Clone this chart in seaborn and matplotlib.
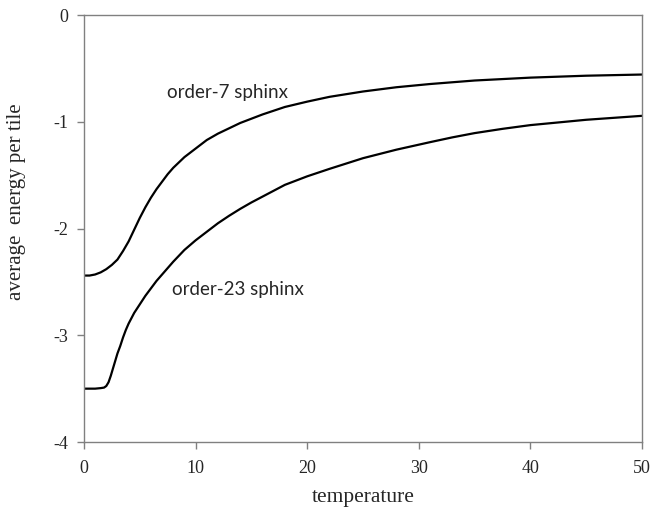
import pandas as pd
import matplotlib
matplotlib.use("Agg")
import matplotlib.pyplot as plt
import seaborn as sns

# ---------- data ----------
T7 = [0, 0.5, 1.0, 1.5, 2.0, 2.5, 3.0, 3.5, 4.0, 4.5, 5.0, 5.5, 6.0, 6.5,
      7.0, 7.5, 8.0, 9.0, 10, 11, 12, 13, 14, 15, 16, 18, 20, 22, 25, 28,
      31, 35, 40, 45, 50]
E7 = [-2.44, -2.44, -2.43, -2.41, -2.38, -2.34, -2.29, -2.21, -2.12, -2.01,
      -1.90, -1.80, -1.71, -1.63, -1.56, -1.49, -1.43, -1.33, -1.25, -1.17,
      -1.11, -1.06, -1.01, -0.97, -0.93, -0.86, -0.81, -0.765, -0.715,
      -0.675, -0.645, -0.612, -0.585, -0.567, -0.556]

T23 = [0, 1.0, 1.5, 1.8, 2.0, 2.2, 2.4, 2.6, 2.8, 3.0, 3.25, 3.5, 3.75, 4.0,
       4.5, 5.0, 5.5, 6.0, 6.5, 7.0, 8.0, 9.0, 10, 11, 12, 13, 14, 15, 16,
       18, 20, 22, 25, 28, 31, 33, 35, 37.5, 40, 45, 50]
E23 = [-3.50, -3.50, -3.495, -3.49, -3.475, -3.44, -3.38, -3.31, -3.24,
       -3.17, -3.10, -3.02, -2.95, -2.89, -2.79, -2.71, -2.63, -2.56, -2.49,
       -2.43, -2.31, -2.20, -2.11, -2.03, -1.95, -1.88, -1.815, -1.755,
       -1.70, -1.59, -1.51, -1.44, -1.34, -1.26, -1.19, -1.145, -1.105,
       -1.065, -1.03, -0.98, -0.943]

LABEL7 = "order-7 sphinx"
LABEL23 = "order-23 sphinx"

X_TICKS = [0, 10, 20, 30, 40, 50]
Y_TICKS = [0, -1, -2, -3, -4]

# ---------- plot ----------
sns.set_style("white")
plt.rcParams["font.family"] = ["Liberation Serif", "DejaVu Serif"]

df = pd.concat([
    pd.DataFrame({"temperature": T7, "energy": E7, "tiling": LABEL7}),
    pd.DataFrame({"temperature": T23, "energy": E23, "tiling": LABEL23}),
])

fig = plt.figure(figsize=(6.53, 5.07), dpi=100)
ax = fig.add_axes([0.1286, 0.1282, 0.9832 - 0.1286, 0.970 - 0.1282])

sns.lineplot(data=df, x="temperature", y="energy", units="tiling",
             estimator=None, color="black", linewidth=1.6, ax=ax,
             legend=False)

ax.set_xlim(0, 50)
ax.set_ylim(-4, 0)
ax.set_xticks(X_TICKS)
ax.set_yticks(Y_TICKS)
ax.set_yticklabels([str(t) for t in Y_TICKS])
ax.tick_params(axis="both", direction="out", length=5, width=1,
               color="#808080", labelsize=13, top=False, right=False,
               bottom=True, left=True)
ax.tick_params(axis="x", pad=8)
ax.tick_params(axis="y", pad=6)
for s in ax.spines.values():
    s.set_color("#808080")
    s.set_linewidth(1.0)

ax.set_xlabel("temperature", fontsize=15.5, labelpad=8)
ax.set_ylabel("average  energy per tile", fontsize=15)
ax.yaxis.set_label_coords(-0.104, 0.562)

ax.text(7.4, -0.72, LABEL7, fontsize=13.5, family=["Lato", "DejaVu Sans"],
        va="center", ha="left")
ax.text(7.9, -2.57, LABEL23, fontsize=13.5, family=["Lato", "DejaVu Sans"],
        va="center", ha="left")

fig.savefig("out.png", dpi=100, facecolor="white")
